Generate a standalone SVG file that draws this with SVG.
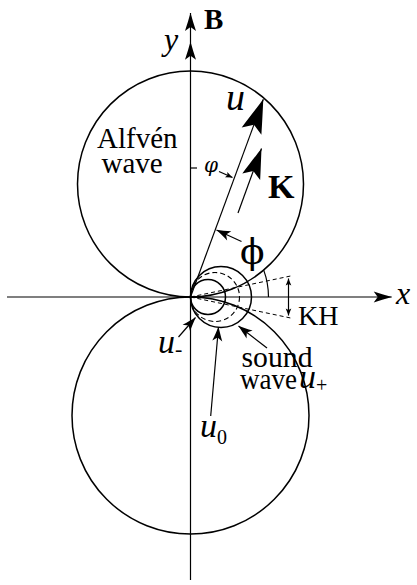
<svg xmlns="http://www.w3.org/2000/svg" width="417" height="585" viewBox="0 0 417 585">
<style>
.ln{fill:none;stroke:#000;stroke-width:1.2}
.cr{fill:none;stroke:#000;stroke-width:1.5}
.ds{fill:none;stroke:#000;stroke-width:1.1;stroke-dasharray:5 3}
.dl{fill:none;stroke:#000;stroke-width:1;stroke-dasharray:4 3}
.t{font-family:"Liberation Serif","Times New Roman",serif;fill:#000}
.g{font-family:"DejaVu Serif","Liberation Serif",serif;fill:#000}
.i{font-style:italic}
.b{font-weight:bold}
.ah{fill:#000;stroke:none}
</style>
<defs>
<marker id="mBig" markerUnits="userSpaceOnUse" markerWidth="1" markerHeight="1" overflow="visible" orient="auto"><path class="ah" d="M0,0 C-8,2.5 -22,7 -34,10.5 L-27,0 L-34,-10.5 C-22,-7 -8,-2.5 0,0 Z"/></marker>
<marker id="mK" markerUnits="userSpaceOnUse" markerWidth="1" markerHeight="1" overflow="visible" orient="auto"><path class="ah" d="M0,0 C-7,2.2 -20,6.5 -30,9.5 L-24,0 L-30,-9.5 C-20,-6.5 -7,-2.2 0,0 Z"/></marker>
<marker id="mAx" markerUnits="userSpaceOnUse" markerWidth="1" markerHeight="1" overflow="visible" orient="auto"><path class="ah" d="M0,0 C-5,1.5 -12,3.5 -18,5.5 L-14,0 L-18,-5.5 C-12,-3.5 -5,-1.5 0,0 Z"/></marker>
<marker id="mSm" markerUnits="userSpaceOnUse" markerWidth="1" markerHeight="1" overflow="visible" orient="auto"><path class="ah" d="M0,0 C-4,1.5 -9,3 -14,5 L-10.5,0 L-14,-5 C-9,-3 -4,-1.5 0,0 Z"/></marker>
<marker id="mTy" markerUnits="userSpaceOnUse" markerWidth="1" markerHeight="1" overflow="visible" orient="auto-start-reverse"><path class="ah" d="M0,0 L-7,2.8 L-5.5,0 L-7,-2.8 Z"/></marker>
</defs>
<rect width="417" height="585" fill="#fff"/>

<g id="alfven-upper"><circle class="cr" cx="190.5" cy="184" r="113"/></g>
<g id="alfven-lower"><circle class="cr" cx="190.5" cy="415.5" r="118.5"/></g>
<g id="sound-inner"><circle class="cr" cx="208" cy="297" r="17.5"/></g>
<g id="sound-dashed"><circle class="ds" cx="215" cy="297" r="24.5"/></g>
<g id="sound-outer"><circle class="cr" cx="221" cy="297" r="30.5"/></g>

<g id="connectors">
<path class="ln" d="M7 297 H391.7" marker-end="url(#mAx)"/>
<path class="ln" d="M190.5 580 V41.7 V13" marker-mid="url(#mAx)" marker-end="url(#mAx)"/>
<path class="ln" d="M190.5 297 L263.3 99.3" marker-end="url(#mBig)"/>
<path class="ln" d="M238 213 L261.5 148.5" marker-end="url(#mK)"/>
<path class="ln" d="M190.5 168 H197"/>
<path class="ln" d="M219 171.5 L232.5 177.5" marker-end="url(#mTy)"/>
<path class="ln" d="M241.5 241.5 L216.5 230" marker-end="url(#mSm)"/>
<path class="ln" d="M268.5 297 A78 78 0 0 0 263.7 270.1"/>
<path class="dl" d="M190.5 297 L293 275.5 M190.5 297 L293 318.5"/>
<path class="ln" d="M288.5 278.5 V315.5" marker-start="url(#mTy)" marker-end="url(#mTy)"/>
<path class="ln" d="M178.5 337 L195.5 317.5" marker-end="url(#mSm)"/>
<path class="ln" d="M210.7 416 L218.5 327" marker-end="url(#mSm)"/>
<path class="ln" d="M267 348 L238.5 326" marker-end="url(#mSm)"/>
</g>

<g id="labels">
<text class="t b" x="204" y="29" font-size="29">B</text>
<text class="t i" x="164" y="50" font-size="32">y</text>
<text class="t i" x="396" y="303.5" font-size="32">x</text>
<text class="t i" x="226" y="110" font-size="38">u</text>
<text class="t b" x="268" y="198" font-size="34">K</text>
<text class="g i" x="204" y="172" font-size="20">φ</text>
<text class="g" x="240" y="264" font-size="36">ϕ</text>
<text class="t" x="97" y="148" font-size="29">Alfvén</text>
<text class="t" x="101.5" y="173.3" font-size="29">wave</text>
<text class="t" x="298" y="325" font-size="28">KH</text>
<text class="t" x="241.5" y="367" font-size="29" textLength="71" lengthAdjust="spacingAndGlyphs">sound</text>
<text class="t" x="240" y="388.5" font-size="29" textLength="57" lengthAdjust="spacingAndGlyphs">wave</text>
<text class="t i" x="158" y="353" font-size="34">u<tspan font-style="normal" font-size="22" dy="3">-</tspan></text>
<text class="t i" x="200" y="437" font-size="34">u<tspan font-style="normal" font-size="20" dy="7">0</tspan></text>
<text class="t i" x="299" y="388" font-size="34">u<tspan font-style="normal" font-size="20" dy="4">+</tspan></text>
</g>
</svg>
